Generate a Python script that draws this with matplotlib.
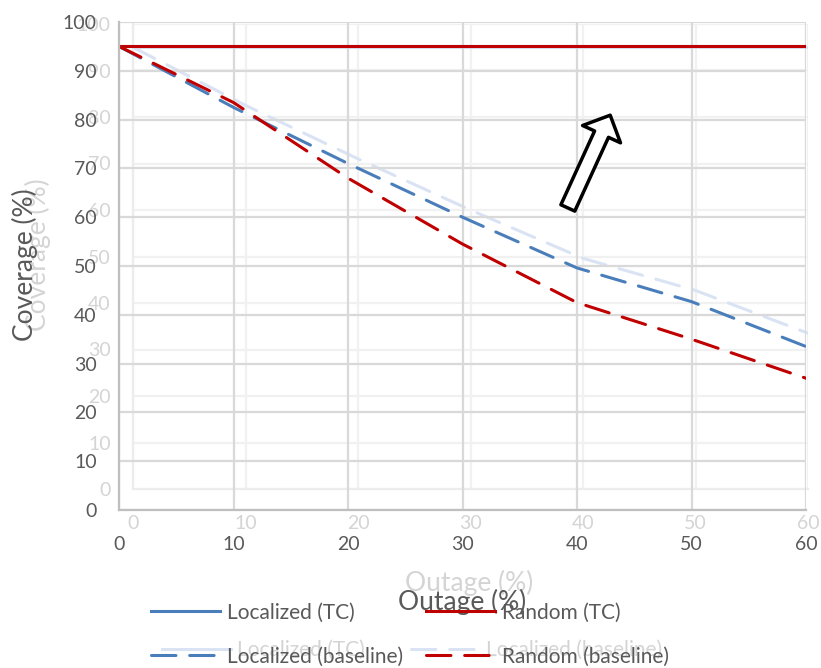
import matplotlib.pyplot as plt
from matplotlib.patches import ArrowStyle

# data
outage = [0, 10, 20, 30, 40, 50, 60]
localized_tc = [95, 95, 95, 95, 95, 95, 95]
random_tc = [95, 95, 95, 95, 95, 95, 95]
localized_base = [95, 82.5, 71, 60, 49.6, 42.7, 33.5]
random_base = [95, 83.5, 68, 54.5, 42.5, 35, 27]

labels = ['Localized (TC)', 'Random (TC)', 'Localized (baseline)', 'Random (baseline)']
xticks = [0, 10, 20, 30, 40, 50, 60]
yticks = [0, 10, 20, 30, 40, 50, 60, 70, 80, 90, 100]

BLUE = '#4a7ebb'
RED = '#c00000'
TXT = '#595959'
GHOST_TXT = '#d4d4d4'
GHOST_LINE = '#dae3f3'

plt.rcParams['font.family'] = ['Lato', 'DejaVu Sans']
plt.rcParams['font.size'] = 14

W, H = 821, 668
fig = plt.figure(figsize=(W / 100, H / 100), dpi=100)

# faded copy of the chart sitting behind the main one
ghost = fig.add_axes([133 / W, 179 / H, 675 / W, 465 / H])
ax = fig.add_axes([119 / W, 158 / H, 687 / W, 488 / H])
ax.set_facecolor('none')


def style(a, grid_c, spine_c, text_c):
    a.set_xlim(0, 60)
    a.set_ylim(0, 100)
    a.set_xticks(xticks)
    a.set_yticks(yticks)
    a.grid(True, color=grid_c, lw=1.6)
    a.set_axisbelow(True)
    for s in ('top', 'right'):
        a.spines[s].set_visible(False)
    for s in ('left', 'bottom'):
        a.spines[s].set_color(spine_c)
        a.spines[s].set_linewidth(1.6)
    a.tick_params(axis='x', length=0, pad=19, labelcolor=text_c, labelsize=14)
    a.tick_params(axis='y', length=0, pad=16, labelcolor=text_c, labelsize=14)


style(ghost, '#f1f1f1', '#ececec', GHOST_TXT)
style(ax, '#d9d9d9', '#bfbfbf', TXT)

dash = (8, 4.5)

g1, = ghost.plot(outage, localized_tc, color=GHOST_LINE, lw=2.2)
g2, = ghost.plot(outage, localized_base, color=GHOST_LINE, lw=2.2,
                 dashes=dash, dash_capstyle='round')
ghost.set_xlabel('Outage (%)', color=GHOST_TXT, fontsize=19, va='center')
ghost.set_ylabel('Coverage (%)', color=GHOST_TXT, fontsize=19, va='center')
ghost.xaxis.set_label_coords(0.498, -0.202)
ghost.yaxis.set_label_coords(-0.141, 0.503)
gleg = ghost.legend([g1, g2], [labels[0], labels[2]], ncol=2, frameon=False,
                    loc='center left', bbox_to_anchor=(162 / W, 1 - 650 / H),
                    bbox_transform=fig.transFigure, fontsize=15,
                    handlelength=3.3, handletextpad=0.3, columnspacing=2.2,
                    borderpad=0, borderaxespad=0)
for t in gleg.get_texts():
    t.set_color(GHOST_TXT)

l1, = ax.plot(outage, localized_tc, color=BLUE, lw=2.2)
l2, = ax.plot(outage, random_tc, color=RED, lw=2.2)
l3, = ax.plot(outage, localized_base, color=BLUE, lw=2.2,
              dashes=dash, dash_capstyle='round')
l4, = ax.plot(outage, random_base, color=RED, lw=2.2,
              dashes=dash, dash_capstyle='round')

ax.set_xlabel('Outage (%)', color=TXT, fontsize=19, va='center')
ax.set_ylabel('Coverage (%)', color=TXT, fontsize=19, va='center')
ax.xaxis.set_label_coords(0.499, -0.1885)
ax.yaxis.set_label_coords(-0.137, 0.502)

leg = ax.legend([l1, l3, l2, l4], [labels[0], labels[2], labels[1], labels[3]],
                ncol=2, frameon=False, loc='center left',
                bbox_to_anchor=(151 / W, 1 - 634.5 / H),
                bbox_transform=fig.transFigure,
                fontsize=15, handlelength=3.3, handletextpad=0.35,
                columnspacing=1.1, labelspacing=1.15, borderpad=0,
                borderaxespad=0)
for t in leg.get_texts():
    t.set_color(TXT)

# hollow block arrow
ax.annotate('', xy=(42.9, 80.9), xytext=(39.2, 61.9),
            arrowprops=dict(arrowstyle=ArrowStyle.Simple(head_length=0.75,
                                                         head_width=1.5,
                                                         tail_width=0.55),
                            mutation_scale=20, fc='white', ec='black', lw=2.5,
                            shrinkA=0, shrinkB=0))

fig.savefig('out.png', dpi=100, facecolor='white')
